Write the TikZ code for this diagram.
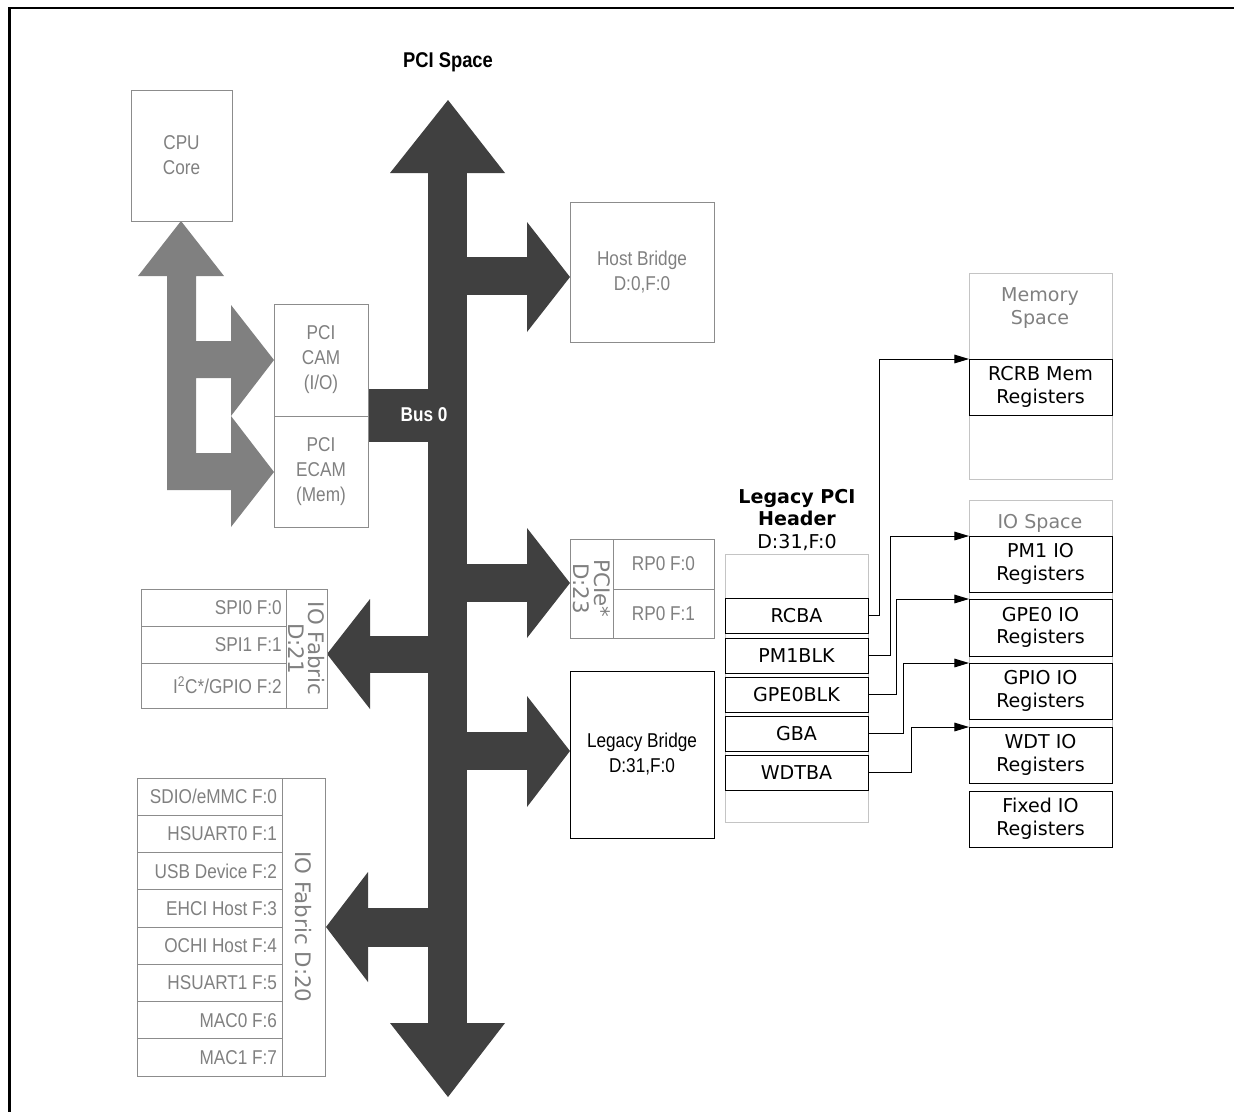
\documentclass[tikz,border=0pt]{standalone}
\usepackage{fontspec}
\setmainfont{DejaVu Sans}
\newfontfamily\narrowfont[FakeStretch=0.86]{Liberation Sans}
\usetikzlibrary{arrows.meta}
\definecolor{busgray}{HTML}{404040}
\definecolor{armgray}{HTML}{808080}
\definecolor{txtgray}{HTML}{808080}
\definecolor{boxgray}{HTML}{8C8C8C}
\definecolor{litegray}{HTML}{C4C4C4}
\begin{document}
\begin{tikzpicture}[x=0.75pt,y=-0.75pt,
  rect/.style n args={4}{at={({(#1+#3)/2},{(#2+#4)/2})},
    minimum width={(#3-#1)*0.75pt},minimum height={(#4-#2)*0.75pt}},
  gbox/.style={inner sep=0pt,outer sep=0pt,draw=boxgray,line width=0.75pt,
    text=txtgray,align=center,font=\narrowfont\fontsize{15pt}{18.75pt}\selectfont},
  kbox/.style={inner sep=0pt,outer sep=0pt,draw=black,line width=0.75pt,
    text=black,align=center,font=\fontsize{14.3pt}{17pt}\selectfont},
  lbox/.style={inner sep=0pt,outer sep=0pt,draw=litegray,line width=0.75pt},
  rowtxt/.style={anchor=east,inner sep=0pt,text=txtgray,font=\narrowfont\fontsize{15pt}{18pt}\selectfont},
  rottxt/.style={rotate=-90,inner sep=0pt,text=txtgray,align=center,font=\fontsize{16pt}{15.5pt}\selectfont},
  conn/.style={draw=black,line width=0.75pt,-{Triangle[length=11pt,width=6.5pt]}},
]
\useasboundingbox (0,0) rectangle (1234,1111);
% frame
\draw[line width=2.2pt] (9.5,1112) -- (9.5,8) -- (1236,8);

% ---------- main bus ----------
\fill[busgray] (428,172) rectangle (467,1024);
\fill[busgray] (390,173) -- (448,100) -- (505,173) -- cycle;
\fill[busgray] (390,1023) -- (448,1097) -- (505,1023) -- cycle;
% right branches
\fill[busgray] (466,257) rectangle (528,295);
\fill[busgray] (527,222) -- (570,277) -- (527,332) -- cycle;
\fill[busgray] (466,564) rectangle (528,602);
\fill[busgray] (527,528) -- (570,583) -- (527,638) -- cycle;
\fill[busgray] (466,732) rectangle (528,770);
\fill[busgray] (527,696) -- (570,751) -- (527,807) -- cycle;
% left branches
\fill[busgray] (368,389) rectangle (429,442);
\fill[busgray] (369,636) rectangle (429,673);
\fill[busgray] (370,599) -- (327,654) -- (370,709) -- cycle;
\fill[busgray] (367,908) rectangle (429,947);
\fill[busgray] (368,872) -- (326,927) -- (368,982) -- cycle;

\node[text=white,inner sep=0pt,font=\narrowfont\bfseries\fontsize{15pt}{18pt}\selectfont] (bus0) at (424,415) {Bus 0};
\node[text=black,inner sep=0pt,font=\narrowfont\bfseries\fontsize{16pt}{18pt}\selectfont] (pcispace) at (448,62) {PCI Space};

% ---------- CPU side arrows ----------
\fill[armgray] (181,221) -- (224,276) -- (196,276) -- (196,341) -- (231,341) -- (231,305)
  -- (274,360) -- (231,416) -- (231,378) -- (196,378) -- (196,453) -- (231,453) -- (231,416)
  -- (274,472) -- (231,527) -- (231,490) -- (167,490) -- (167,276) -- (138,276) -- cycle;

% ---------- gray boxes ----------
\node[gbox,rect={131}{90}{232}{221}] (cpu) {CPU\\Core};
\node[gbox,rect={570}{202}{714}{342}] (hostb) {Host Bridge\\D:0,F:0};
\node[gbox,rect={274}{304}{368}{416}] (pcicam) {PCI\\CAM\\(I/O)};
\node[gbox,rect={274}{416}{368}{527}] (pciecam) {PCI\\ECAM\\(Mem)};

% PCIe D:23
\node[gbox,rect={570}{539}{613}{638}] (pciecol) {};
\node[rottxt] (pcietxt) at (pciecol.center) {PCIe*\\D:23};
\node[gbox,rect={613}{539}{714}{589}] (rp0) {RP0 F:0};
\node[gbox,rect={613}{589}{714}{638}] (rp1) {RP0 F:1};

% Legacy bridge
\node[gbox,draw=black,text=black,rect={570}{671}{714}{838}] (legb) {Legacy Bridge\\D:31,F:0};

% IO Fabric D:21
\node[gbox,rect={141}{589}{286}{626}] (spi0) {};
\node[gbox,rect={141}{626}{286}{663}] (spi1) {};
\node[gbox,rect={141}{663}{286}{708}] (i2c) {};
\node[gbox,rect={286}{589}{327}{708}] (f21col) {};
\node[rowtxt] (spi0t) at ([xshift=-3pt]spi0.east) {SPI0 F:0};
\node[rowtxt] (spi1t) at ([xshift=-3pt]spi1.east) {SPI1 F:1};
\node[rowtxt] (i2ct) at ([xshift=-3pt]i2c.east) {I\textsuperscript{2}C*/GPIO F:2};
\node[rottxt] (f21txt) at (f21col.center) {IO Fabric\\D:21};

% IO Fabric D:20
\foreach \t [count=\i] in {SDIO/eMMC F:0,HSUART0 F:1,USB Device F:2,EHCI Host F:3,OCHI Host F:4,HSUART1 F:5,MAC0 F:6,MAC1 F:7}{
  \pgfmathsetmacro\ya{778+(\i-1)*37.25}
  \pgfmathsetmacro\yb{\ya+37.25}
  \node[gbox,rect={137}{\ya}{282}{\yb}] (fab\i) {};
  \node[rowtxt] (fabt\i) at ([xshift=-3.5pt]fab\i.east) {\t};
}
\node[gbox,rect={282}{778}{325}{1076}] (f20col) {};
\node[rottxt] (f20txt) at (f20col.center) {IO Fabric D:20};

% ---------- Memory space ----------
\node[lbox,rect={969}{273}{1112}{479}] (memsp) {};
\node[text=txtgray,align=center,inner sep=0pt,font=\fontsize{14.3pt}{17pt}\selectfont] (memtxt) at (1040,308) {Memory\\Space};
\node[kbox,rect={969}{359}{1112}{415}] (rcrb) {RCRB Mem\\Registers};

% ---------- IO space ----------
\node[lbox,rect={969}{500}{1112}{783}] (iosp) {};
\node[text=txtgray,inner sep=0pt,font=\fontsize{14.3pt}{17pt}\selectfont] (iotxt) at (1040,523) {IO Space};
\node[kbox,fill=white,rect={969}{536}{1112}{592}] (pm1io) {PM1 IO\\Registers};
\node[kbox,fill=white,rect={969}{599}{1112}{656}] (gpe0io) {GPE0 IO\\Registers};
\node[kbox,fill=white,rect={969}{663}{1112}{719}] (gpioio) {GPIO IO\\Registers};
\node[kbox,fill=white,rect={969}{727}{1112}{783}] (wdtio) {WDT IO\\Registers};
\node[kbox,rect={969}{791}{1112}{847}] (fixedio) {Fixed IO\\Registers};

% ---------- Legacy PCI header ----------
\node[align=center,inner sep=0pt,font=\fontsize{14.3pt}{16.9pt}\selectfont] (hdrtitle) at (797,520)
  {\textbf{Legacy PCI}\\\textbf{Header}\\D:31,F:0};
\node[lbox,rect={725}{554}{868}{822}] (hdr) {};
\node[kbox,rect={725}{598}{868}{633}] (rcba) {RCBA};
\node[kbox,rect={725}{638}{868}{673}] (pm1blk) {PM1BLK};
\node[kbox,rect={725}{677}{868}{712}] (gpe0blk) {GPE0BLK};
\node[kbox,rect={725}{716}{868}{751}] (gba) {GBA};
\node[kbox,rect={725}{755}{868}{790}] (wdtba) {WDTBA};

% ---------- connectors ----------
\draw[conn] (rcba.east) -- ++(11,0) |- (rcrb.north west);
\draw[conn] (pm1blk.east) -- ++(22,0) |- (pm1io.north west);
\draw[conn] (gpe0blk.east) -- ++(28,0) |- (gpe0io.north west);
\draw[conn] (gba.east) -- ++(35,0) |- (gpioio.north west);
\draw[conn] (wdtba.east) -- ++(43,0) |- (wdtio.north west);
\end{tikzpicture}
\end{document}
